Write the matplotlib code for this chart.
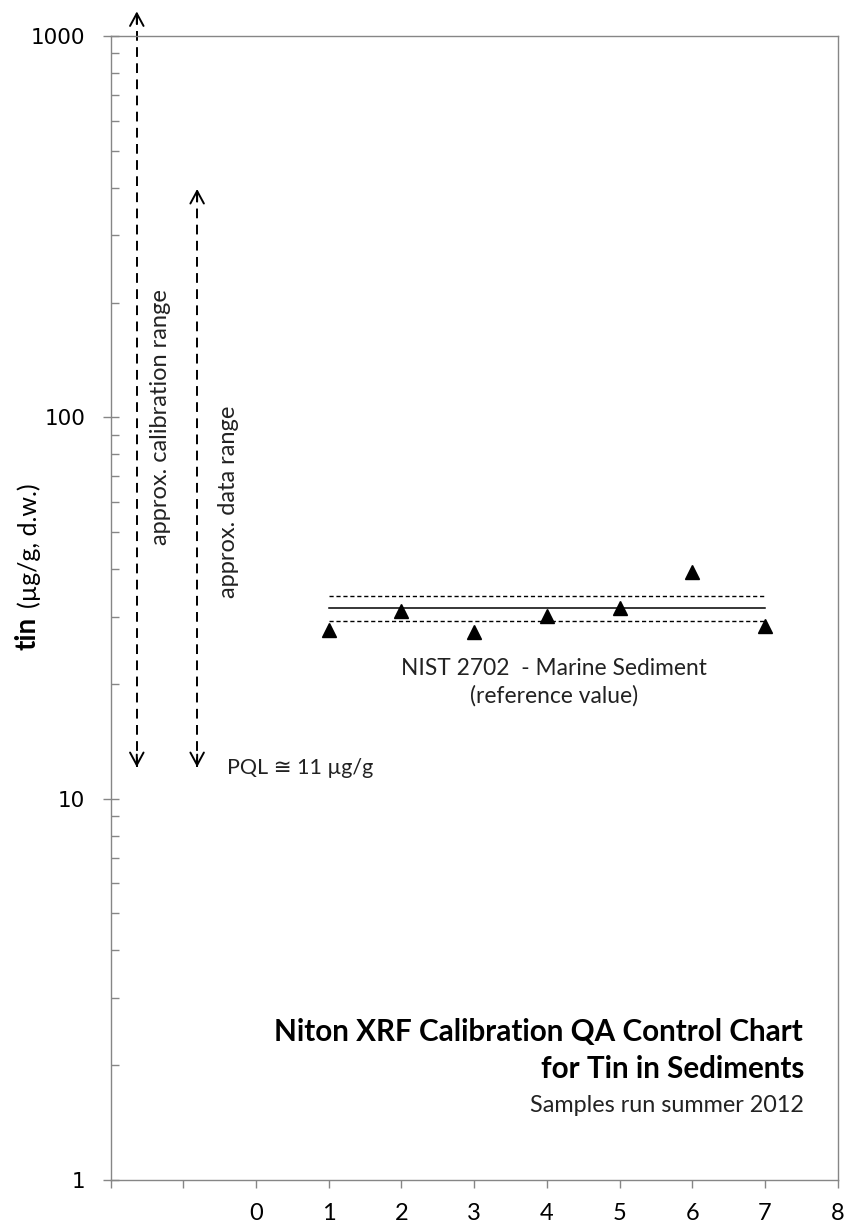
import matplotlib
matplotlib.use('Agg')
import matplotlib.pyplot as plt
from matplotlib.ticker import FixedLocator, LogLocator, NullFormatter

# QA run number vs measured tin in NIST 2702
run_no = [1, 2, 3, 4, 5, 6, 7]
tin_measured = [27.7, 31.1, 27.4, 30.1, 31.6, 39.3, 28.4]

# reference value and its range
ref_value = 31.6
ref_upper = 33.9
ref_lower = 29.3
ref_span = [1, 7]

# approx. ranges shown as arrows (x pos, low, high)
calib_arrow = (-1.64, 12.1, 1160)
data_arrow = (-0.81, 12.1, 397)

xtick_pos = list(range(-2, 9))
xtick_lab = ['', ''] + [str(i) for i in range(0, 9)]

frame_col = '#868686'
txt_font = ['Lato', 'DejaVu Sans']

fig = plt.figure(figsize=(8.49, 12.28), dpi=100)
ax = fig.add_axes([0.1303, 0.0391, 0.8563, 0.9316])

ax.set_yscale('log')
ax.set_ylim(1, 1000)
ax.set_xlim(-2, 8)

for s in ax.spines.values():
    s.set_color(frame_col)
    s.set_linewidth(1.0)

ax.yaxis.set_major_locator(FixedLocator([1, 10, 100, 1000]))
ax.set_yticklabels(['1', '10', '100', '1000'])
ax.yaxis.set_minor_locator(LogLocator(base=10, subs=range(2, 10)))
ax.yaxis.set_minor_formatter(NullFormatter())
ax.tick_params(axis='y', which='major', direction='inout', length=11.5, width=1.0,
               color=frame_col, pad=12.5, labelsize=15.5, labelcolor='black')
ax.tick_params(axis='y', which='minor', direction='in', length=5.8, width=1.0,
               color=frame_col)

ax.set_xticks(xtick_pos)
ax.set_xticklabels(xtick_lab)
ax.tick_params(axis='x', which='major', direction='out', length=5.5, width=1.0,
               color=frame_col, pad=11, labelsize=17, labelcolor='black')
for lab in ax.get_xticklabels():
    lab.set_family(txt_font)

# reference lines
ax.plot(ref_span, [ref_value, ref_value], color='black', lw=1.1)
ax.plot(ref_span, [ref_upper, ref_upper], color='black', lw=1.0, linestyle=(0, (3, 2)))
ax.plot(ref_span, [ref_lower, ref_lower], color='black', lw=1.0, linestyle=(0, (3, 2)))

# measurements
ax.plot(run_no, tin_measured, linestyle='none', marker='^', ms=9.5, color='black')

# range arrows: dashed shaft + solid heads
for xa, lo, hi in [calib_arrow, data_arrow]:
    ax.plot([xa, xa], [lo, hi], color='black', lw=1.4, linestyle=(0, (5, 3.3)),
            clip_on=False)
    ax.annotate('', xy=(xa, hi), xytext=(0, -9), textcoords='offset points',
                annotation_clip=False,
                arrowprops=dict(arrowstyle='->,head_length=0.5,head_width=0.27',
                                lw=1.4, color='black', mutation_scale=18,
                                shrinkA=0, shrinkB=0))
    ax.annotate('', xy=(xa, lo), xytext=(0, 9), textcoords='offset points',
                annotation_clip=False,
                arrowprops=dict(arrowstyle='->,head_length=0.5,head_width=0.27',
                                lw=1.4, color='black', mutation_scale=18,
                                shrinkA=0, shrinkB=0))

ax.text(-1.31, 100, 'approx. calibration range', rotation=90, ha='center', va='center',
        fontsize=17, family=txt_font, color='#222222')
ax.text(-0.385, 60, 'approx. data range', rotation=90, ha='center', va='center',
        fontsize=17, family=txt_font, color='#222222')
ax.text(-0.4, 12.06, 'PQL \u2245 11 \u00b5g/g', ha='left', va='center',
        fontsize=15.5, family=txt_font, color='#222222')

ax.text(4.1, 20.2, 'NIST 2702  - Marine Sediment\n(reference value)', ha='center',
        va='center', fontsize=16.4, family=txt_font, linespacing=1.35, color='#222222')

# chart title block
ax.text(7.52, 2.32, 'Niton XRF Calibration QA Control Chart', ha='right', va='baseline',
        fontsize=21.3, fontweight='bold', family=txt_font, color='black')
ax.text(7.54, 1.85, 'for Tin in Sediments', ha='right', va='baseline',
        fontsize=21.3, fontweight='bold', family=txt_font, color='black')
ax.text(7.54, 1.51, 'Samples run summer 2012', ha='right', va='baseline',
        fontsize=16.8, family=txt_font, color='#222222')

# y axis label: bold 'tin' + units
fig.text(40 / 849, 1 - 650 / 1228, 'tin', rotation=90, ha='right', va='bottom',
         fontsize=20, fontweight='bold', family=txt_font)
fig.text(41 / 849, 1 - 608 / 1228, '(\u00b5g/g, d.w.)', rotation=90, ha='right',
         va='bottom', fontsize=18, family=txt_font)

fig.savefig('out.png', dpi=100)
